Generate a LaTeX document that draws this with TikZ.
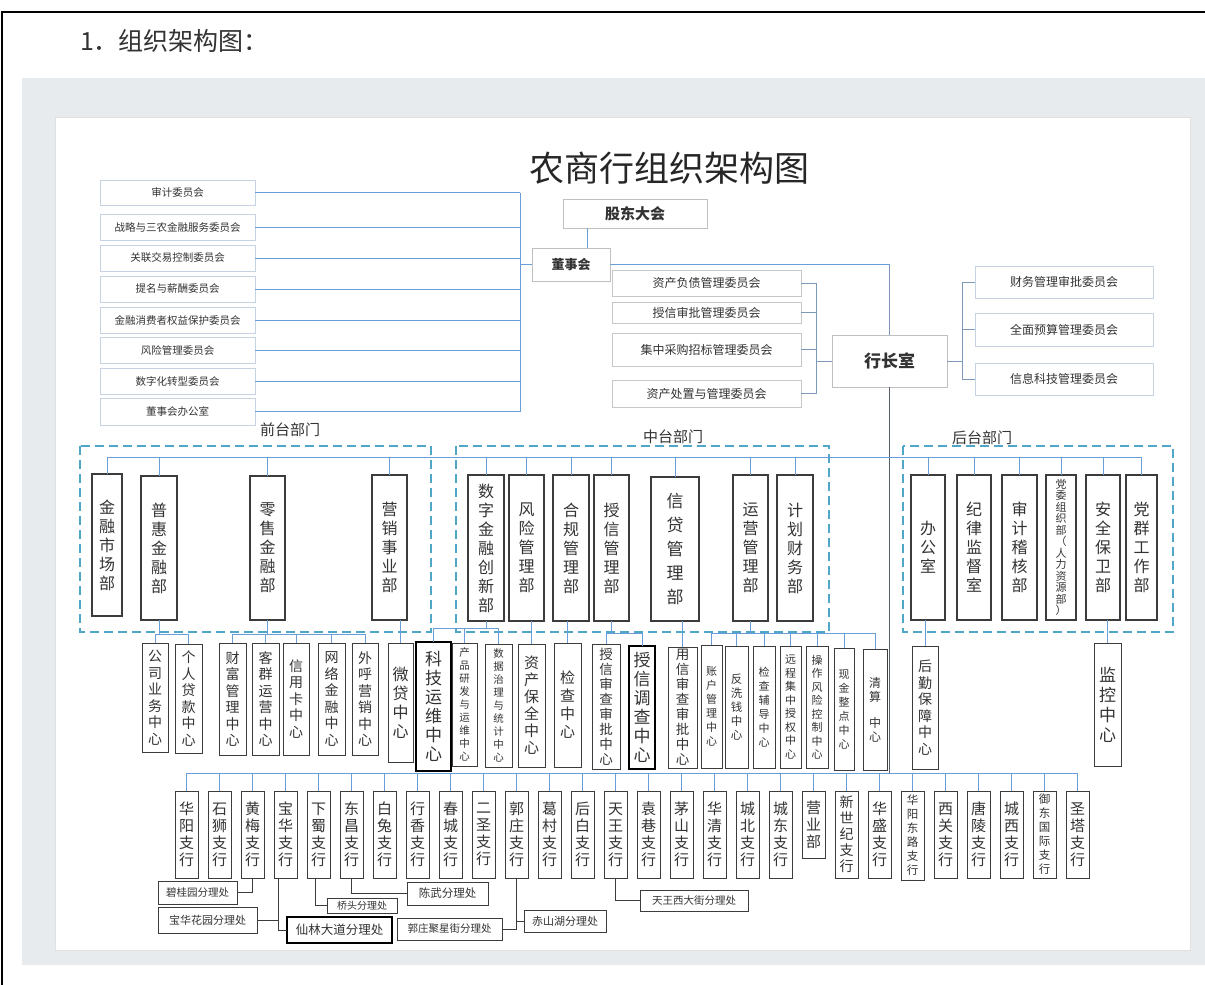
\documentclass[tikz,border=0pt]{standalone}
\usepackage{fontspec}
\setmainfont{Noto Sans CJK SC}
\definecolor{lnblue}{HTML}{6A9ED8}
\definecolor{hzblue}{HTML}{7D99B8}
\definecolor{dashc}{HTML}{4FA6C6}
\definecolor{bggray}{HTML}{E8EBEE}
\definecolor{cmtb}{HTML}{C6D3E3}
\definecolor{dk}{HTML}{3C3C3C}
\definecolor{txt}{HTML}{333333}
\definecolor{trunk}{HTML}{56616D}
\newcommand\bx[7]{\node[#6,minimum width={(#4)-(#2)},minimum height={(#5)-(#3)}] (#1) at ({((#2)+(#4))/2},{((#3)+(#5))/2}) {#7};}
\newcommand\fs[2]{\fontsize{#1}{#2}\selectfont}
\begin{document}
\begin{tikzpicture}[x=1pt,y=-1pt,
 every node/.style={inner sep=0pt,outer sep=0pt,text=txt},
 cmt/.style={draw=cmtb,line width=0.8pt,fill=white,font=\fs{10.5}{12}},
 mcmt/.style={draw=black!22,line width=0.8pt,fill=white,font=\fs{12}{14}},
 topb/.style={draw=black!25,line width=0.9pt,fill=white},
 dept/.style={draw=dk,line width=1.1pt,fill=white,align=center,font=\fs{16}{19}},
 ctr/.style={draw=dk,line width=1pt,fill=white,align=center,font=\fs{14}{16.5}},
 brh/.style={draw=dk,line width=1pt,fill=white,align=center,font=\fs{15}{17}},
 sub/.style={draw=dk,line width=0.9pt,fill=white,font=\fs{10.5}{12}},
 ln/.style={draw=lnblue,line width=0.9pt},
 hl/.style={draw=hzblue,line width=1pt},
 sl/.style={draw=dk,line width=0.8pt},
 grp/.style={draw=dashc,line width=1.3pt,dash pattern=on 9pt off 5pt},
 lbl/.style={font=\fs{15}{17}}
]
\useasboundingbox (0,0) rectangle (1205,985);
\fill[white] (0,0) rectangle (1205,985);
\fill[bggray] (22,78) rectangle (1205,965);
\filldraw[fill=white,draw=black!12] (55,117) rectangle (1190,950);
\draw[line width=1.2pt] (2,985) -- (2,12) -- (1205,12);
\node[anchor=west,font=\fs{25}{28}] (hdr) at (80,41) {1．组织架构图：};
\node[font=\fs{35}{38},text=black!85] (ttl) at (669,168) {农商行组织架构图};

% top
\bx{gd}{563}{199}{707}{228}{topb,font=\fs{15}{17}\bfseries}{股东大会}
\bx{dsh}{532}{248}{610}{281}{topb,font=\fs{13}{15}\bfseries}{董事会}
\bx{hz}{832}{335}{947}{387}{topb,font=\fs{17}{19}\bfseries}{行长室}

% left committees
\bx{c1}{100}{180}{255}{205}{cmt}{审计委员会}
\bx{c2}{100}{214}{255}{240}{cmt}{战略与三农金融服务委员会}
\bx{c3}{100}{245}{255}{271}{cmt}{关联交易控制委员会}
\bx{c4}{100}{276}{255}{302}{cmt}{提名与薪酬委员会}
\bx{c5}{100}{307}{255}{333}{cmt}{金融消费者权益保护委员会}
\bx{c6}{100}{337}{255}{363}{cmt}{风险管理委员会}
\bx{c7}{100}{368}{255}{394}{cmt}{数字化转型委员会}
\bx{c8}{100}{398}{255}{425}{cmt}{董事会办公室}
\coordinate (spL) at (520,0);
\foreach \n in {c1,c2,c3,c4,c5,c6,c7,c8} \draw[ln] (\n.east) -- (\n.east -| spL);
\draw[ln] (c1.east -| spL) -- (c8.east -| spL);
\draw[ln] (dsh.west) -- (dsh.west -| spL);
\coordinate (gx) at (587,0);
\draw[ln] (gd.south -| gx) -- (dsh.north -| gx);
\draw[ln] (dsh.east) -- (dsh.east -| hz.north);
\draw[hl] (dsh.east -| hz.north) -- (hz.north);

% middle committees
\bx{m1}{612}{270}{801}{296}{mcmt}{资产负债管理委员会}
\bx{m2}{612}{302}{801}{323}{mcmt}{授信审批管理委员会}
\bx{m3}{612}{333}{801}{366}{mcmt}{集中采购招标管理委员会}
\bx{m4}{612}{380}{801}{407}{mcmt}{资产处置与管理委员会}
\coordinate (spM) at (816,0);
\foreach \n in {m1,m2,m3,m4} \draw[hl] (\n.east) -- (\n.east -| spM);
\draw[hl] (m1.east -| spM) -- (m4.east -| spM);
\draw[hl] (hz.west) -- (hz.west -| spM);

% right committees
\bx{r1}{975}{266}{1153}{298}{cmt,font=\fs{12}{14}}{财务管理审批委员会}
\bx{r2}{975}{313}{1153}{346}{cmt,font=\fs{12}{14}}{全面预算管理委员会}
\bx{r3}{975}{363}{1153}{395}{cmt,font=\fs{12}{14}}{信息科技管理委员会}
\coordinate (spR) at (962,0);
\foreach \n in {r1,r2,r3} \draw[hl] (\n.west) -- (\n.west -| spR);
\draw[hl] (r1.west -| spR) -- (r3.west -| spR);
\draw[hl] (hz.east) -- (hz.east -| spR);

% trunk
\draw[draw=trunk,line width=1pt] (hz.south) -- (hz.south |- 0,773);

% groups
\draw[grp] (80,446) rectangle (431,632);
\draw[grp] (456,446) rectangle (829,632);
\draw[grp] (903,446) rectangle (1173,632);
\node[lbl] (g1) at (290,430) {前台部门};
\node[lbl] (g2) at (673,437) {中台部门};
\node[lbl] (g3) at (982,438) {后台部门};

% departments
\bx{d1}{92}{474}{122}{616}{dept}{金\\融\\市\\场\\部}
\bx{d2}{141}{476}{177}{620}{dept}{普\\惠\\金\\融\\部}
\bx{d3}{250}{476}{285}{620}{dept}{零\\售\\金\\融\\部}
\bx{d4}{372}{475}{407}{620}{dept}{营\\销\\事\\业\\部}
\bx{d5}{468}{475}{504}{621}{dept}{数\\字\\金\\融\\创\\新\\部}
\bx{d6}{509}{475}{544}{621}{dept}{风\\险\\管\\理\\部}
\bx{d7}{553}{475}{589}{621}{dept}{合\\规\\管\\理\\部}
\bx{d8}{594}{475}{629}{621}{dept}{授\\信\\管\\理\\部}
\bx{d9}{651}{477}{699}{621}{dept,font=\fs{17}{24}}{信\\贷\\管\\理\\部}
\bx{d10}{733}{475}{768}{621}{dept}{运\\营\\管\\理\\部}
\bx{d11}{777}{475}{813}{621}{dept}{计\\划\\财\\务\\部}
\bx{e1}{911}{475}{945}{620}{dept}{办\\公\\室}
\bx{e2}{957}{475}{991}{620}{dept}{纪\\律\\监\\督\\室}
\bx{e3}{1002}{475}{1037}{620}{dept}{审\\计\\稽\\核\\部}
\bx{e4}{1046}{475}{1076}{620}{dept,font=\fs{11}{11.5}}{党\\委\\组\\织\\部\\（\\人\\力\\资\\源\\部\\）}
\bx{e5}{1086}{475}{1120}{620}{dept}{安\\全\\保\\卫\\部}
\bx{e6}{1126}{475}{1157}{620}{dept}{党\\群\\工\\作\\部}
\draw[ln] (d1.north |- 0,457) -- (e6.north |- 0,457);
\foreach \n in {d1,d2,d3,d4,d5,d6,d7,d8,d9,d10,d11,e1,e2,e3,e4,e5,e6}
  \draw[ln] (\n.north) -- (\n.north |- 0,457);

% centers
\bx{k1}{142}{643}{168}{752}{ctr}{公\\司\\业\\务\\中\\心}
\bx{k2}{175}{644}{202}{753}{ctr}{个\\人\\贷\\款\\中\\心}
\bx{k3}{219}{643}{246}{755}{ctr}{财\\富\\管\\理\\中\\心}
\bx{k4}{252}{643}{279}{755}{ctr}{客\\群\\运\\营\\中\\心}
\bx{k5}{283}{643}{309}{755}{ctr}{信\\用\\卡\\中\\心}
\bx{k6}{318}{643}{345}{755}{ctr}{网\\络\\金\\融\\中\\心}
\bx{k7}{352}{643}{378}{755}{ctr}{外\\呼\\营\\销\\中\\心}
\bx{k8}{388}{643}{413}{762}{ctr,font=\fs{16}{19}}{微\\贷\\中\\心}
\bx{k9}{416}{642}{451}{771}{ctr,line width=1.4pt,draw=black,font=\fs{17}{19}}{科\\技\\运\\维\\中\\心}
\bx{k10}{452}{643}{477}{766}{ctr,font=\fs{10.5}{13}}{产\\品\\研\\发\\与\\运\\维\\中\\心}
\bx{k11}{485}{644}{512}{767}{ctr,font=\fs{10.5}{13}}{数\\据\\治\\理\\与\\统\\计\\中\\心}
\bx{k12}{518}{644}{545}{767}{ctr,font=\fs{15}{17}}{资\\产\\保\\全\\中\\心}
\bx{k13}{554}{643}{581}{767}{ctr,font=\fs{15}{18}}{检\\查\\中\\心}
\bx{k14}{592}{644}{620}{769}{ctr,font=\fs{13.5}{15}}{授\\信\\审\\查\\审\\批\\中\\心}
\bx{k15}{629}{646}{655}{769}{ctr,line width=1.4pt,draw=black,font=\fs{17}{19}}{授\\信\\调\\查\\中\\心}
\bx{k16}{668}{647}{697}{768}{ctr,font=\fs{13.5}{15}}{用\\信\\审\\查\\审\\批\\中\\心}
\bx{k17}{701}{645}{722}{768}{ctr,font=\fs{11}{14}}{账\\户\\管\\理\\中\\心}
\bx{k18}{725}{646}{748}{768}{ctr,font=\fs{11.5}{14}}{反\\洗\\钱\\中\\心}
\bx{k19}{753}{646}{775}{768}{ctr,font=\fs{11}{14}}{检\\查\\辅\\导\\中\\心}
\bx{k20}{780}{646}{801}{768}{ctr,font=\fs{11}{13.5}}{远\\程\\集\\中\\授\\权\\中\\心}
\bx{k21}{806}{646}{828}{768}{ctr,font=\fs{11}{13.5}}{操\\作\\风\\险\\控\\制\\中\\心}
\bx{k22}{834}{648}{854}{770}{ctr,font=\fs{11}{14}}{现\\金\\整\\点\\中\\心}
\bx{k23}{863}{649}{887}{770}{ctr,font=\fs{12}{14}}{清\\算\\[12pt]中\\心}
\bx{k24}{912}{646}{938}{769}{ctr}{后\\勤\\保\\障\\中\\心}
\bx{k25}{1094}{643}{1121}{766}{ctr,font=\fs{17}{20}}{监\\控\\中\\心}

% dept -> centers
\draw[ln] (d2.south) -- (d2.south |- 0,634);
\draw[ln] (k1.north) -- (k1.north |- 0,634) -- (k2.north |- 0,634) -- (k2.north);
\draw[ln] (d3.south) -- (d3.south |- 0,634);
\draw[ln] (k3.north) -- (k3.north |- 0,634) -- (k7.north |- 0,634) -- (k7.north);
\foreach \n in {k4,k5,k6} \draw[ln] (\n.north) -- (\n.north |- 0,634);
\draw[ln] (k8.north) -- (k8.north |- d4.south);
\draw[ln] (d5.south) -- (d5.south |- 0,628);
\draw[ln] (k9.north) -- (k9.north |- 0,628) -- (k11.north |- 0,628) -- (k11.north);
\draw[ln] (k10.north) -- (k10.north |- 0,628);
\draw[ln] (k12.north) -- (k12.north |- d6.south);
\draw[ln] (k13.north) -- (k13.north |- d7.south);
\draw[ln] (d8.south) -- (d8.south |- 0,633);
\draw[ln] (k14.north) -- (k14.north |- 0,633) -- (k15.north |- 0,633) -- (k15.north);
\draw[ln] (k16.north) -- (k16.north |- d9.south);
\draw[ln] (d10.south) -- (d10.south |- 0,633);
\draw[ln] (k17.north) -- (k17.north |- 0,633) -- (k23.north |- 0,633) -- (k23.north);
\foreach \n in {k18,k19,k20,k21,k22} \draw[ln] (\n.north) -- (\n.north |- 0,633);
\draw[ln] (k24.north) -- (k24.north |- e1.south);
\draw[ln] (k25.north) -- (k25.north |- e5.south);

% branches
\foreach \i/\ca/\cb in {0/华/阳,1/石/狮,2/黄/梅,3/宝/华,4/下/蜀,5/东/昌,6/白/兔,7/行/香,8/春/城,9/二/圣,10/郭/庄,11/葛/村,12/后/白,13/天/王,14/袁/巷,15/茅/山,16/华/清,17/城/北,18/城/东,21/华/盛,23/西/关,24/唐/陵,25/城/西,27/圣/塔}
  {\bx{b\i}{175+33*\i}{791}{198+33*\i}{878}{brh}{\ca\\\cb\\支\\行}}
\bx{b19}{802}{791}{825}{858}{brh}{营\\业\\部}
\bx{b20}{835}{791}{858}{878}{brh,font=\fs{14}{16}}{新\\世\\纪\\支\\行}
\bx{b22}{901}{791}{924}{880}{brh,font=\fs{11.5}{14}}{华\\阳\\东\\路\\支\\行}
\bx{b26}{1033}{791}{1056}{878}{brh,font=\fs{11.5}{14}}{御\\东\\国\\际\\支\\行}
\draw[ln] (b0.north |- 0,773) -- (b27.north |- 0,773);
\foreach \i in {0,...,27} \draw[ln] (b\i.north) -- (b\i.north |- 0,773);

% sub offices
\bx{bgy}{158}{881}{237}{904}{sub}{碧桂园分理处}
\bx{bhhy}{158}{907}{257}{933}{sub,font=\fs{11}{12}}{宝华花园分理处}
\bx{xldd}{287}{917}{392}{943}{sub,line width=1.3pt,draw=black,font=\fs{12.5}{14}}{仙林大道分理处}
\bx{qt}{327}{898}{397}{913}{sub,font=\fs{10}{11}}{桥头分理处}
\bx{cw}{407}{882}{488}{905}{sub,font=\fs{11.5}{13}}{陈武分理处}
\bx{gzjx}{397}{918}{502}{940}{sub,font=\fs{10.5}{12}}{郭庄聚星街分理处}
\bx{csh}{524}{910}{606}{932}{sub,font=\fs{11}{12}}{赤山湖分理处}
\bx{twxdj}{640}{890}{748}{911}{sub,font=\fs{10.5}{12}}{天王西大街分理处}
\draw[sl] (b2.south) |- (bgy.east);
\draw[sl] ([xshift=-7pt]b3.south) |- (bhhy.east);
\draw[sl] ([xshift=-7pt]b3.south) |- (xldd.west);
\draw[sl] ([xshift=-3pt]b4.south) |- (qt.west);
\draw[sl] (b5.south) |- (cw.west);
\draw[sl] (b10.south) |- (gzjx.east);
\draw[sl] (b10.south) |- (csh.west);
\draw[sl] (b13.south) |- (twxdj.west);
\end{tikzpicture}
\end{document}
